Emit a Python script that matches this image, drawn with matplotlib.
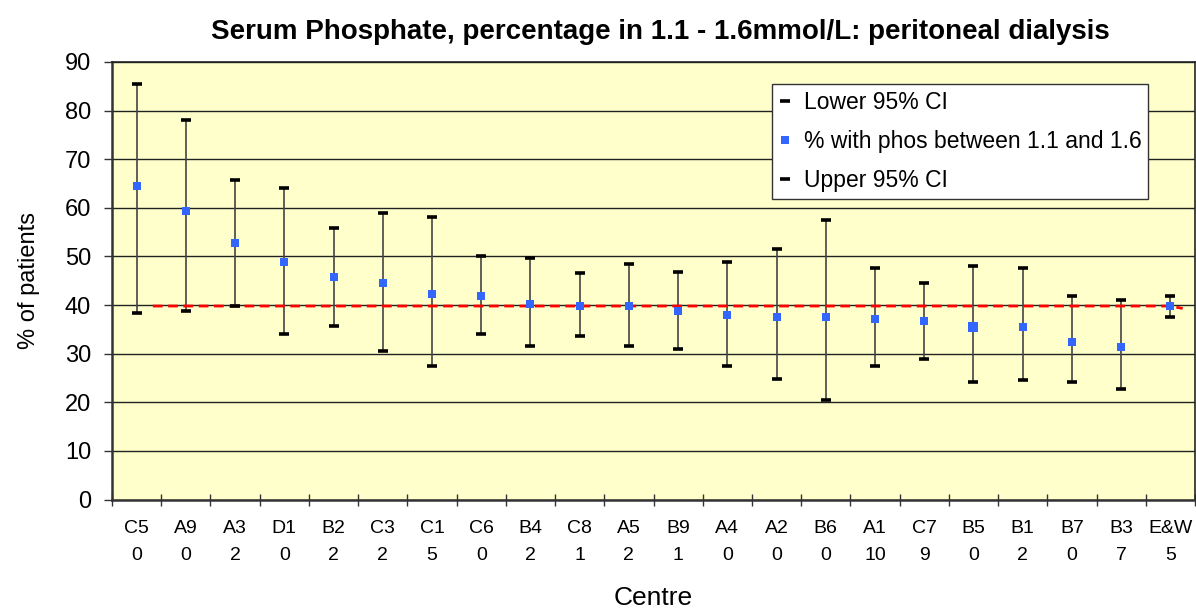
import matplotlib
matplotlib.use("Agg")
import matplotlib.pyplot as plt
from matplotlib.lines import Line2D
import numpy as np

plt.rcParams['font.family'] = ['Liberation Sans', 'DejaVu Sans']

centres = ["C5", "A9", "A3", "D1", "B2", "C3", "C1", "C6", "B4", "C8", "A5",
           "B9", "A4", "A2", "B6", "A1", "C7", "B5", "B1", "B7", "B3", "E&W"]
counts = ["0", "0", "2", "0", "2", "2", "5", "0", "2", "1", "2",
          "1", "0", "0", "0", "10", "9", "0", "2", "0", "7", "5"]
pct = [64.5, 59.3, 52.8, 48.8, 45.8, 44.6, 42.2, 41.9, 40.3, 39.9, 39.9,
       38.7, 37.9, 37.5, 37.5, 37.1, 36.7, 35.5, 35.5, 32.4, 31.3, 39.9]
lower = [38.3, 38.7, 39.9, 34.0, 35.6, 30.6, 27.4, 34.0, 31.6, 33.6, 31.6,
         30.9, 27.4, 24.7, 20.4, 27.4, 29.0, 24.2, 24.6, 24.2, 22.7, 37.5]
upper = [85.5, 78.1, 65.7, 64.1, 55.9, 59.0, 58.2, 50.1, 49.7, 46.5, 48.5,
         46.9, 48.8, 51.6, 57.4, 47.7, 44.6, 48.0, 47.6, 41.8, 41.0, 41.9]
# England & Wales reference line
ref_x = [0.33, 21.0, 21.25]
ref_y = [39.8, 39.8, 39.3]

W, H = 1196, 610
fig = plt.figure(figsize=(W / 100, H / 100), dpi=100)
ax = fig.add_axes([112 / W, 1 - 499.5 / H, (1195 - 112) / W, (499.5 - 62) / H])
ax.set_facecolor('#FFFFCC')

x = np.arange(len(centres))
ax.set_xlim(-0.5, len(centres) - 0.5)
ax.set_ylim(0, 90)

# grid
ax.set_yticks(np.arange(0, 91, 10))
ax.yaxis.grid(True, color='#222222', linewidth=1.0)
ax.set_axisbelow(True)

# high-low lines
ax.vlines(x, lower, upper, color='#444444', linewidth=1.2, zorder=2)
# reference line
ax.plot(ref_x, ref_y, color='#FF0000', linewidth=2, linestyle=(0, (3.5, 2)), zorder=3)

cap_kw = dict(linestyle='none', marker='_', markersize=7, markeredgewidth=2.6,
              color='black', zorder=4)
ax.plot(x, lower, **cap_kw)
ax.plot(x, upper, **cap_kw)
big = {"B5"}
msizes = [7.5 if c in big else 5.2 for c in centres]
for xi, yi, ms in zip(x, pct, msizes):
    ax.plot([xi], [yi], linestyle='none', marker='s', markersize=ms,
            color='#3366FF', markeredgewidth=0, zorder=5)

# x axis: ticks at boundaries, labels at centres
ax.set_xticks(np.arange(-0.5, len(centres), 1.0))
ax.set_xticklabels([])
ax.set_xticks(x, minor=True)
ax.set_xticklabels([f"{c}\n{n}" for c, n in zip(centres, counts)], minor=True,
                   fontsize=14, linespacing=1.75)
ax.tick_params(axis='x', which='major', direction='inout', length=8, width=1, color='#333333')
ax.tick_params(axis='x', which='minor', length=0, pad=15)
ax.tick_params(axis='y', direction='out', length=6, width=1, labelsize=17, pad=9,
               color='#333333')

for s in ['left', 'bottom']:
    ax.spines[s].set_color('#333333')
    ax.spines[s].set_linewidth(1.8)
for s in ['top', 'right']:
    ax.spines[s].set_color('#222222')
    ax.spines[s].set_linewidth(1.2)

ax.set_ylabel("% of patients", fontsize=17, labelpad=18)
ax.set_xlabel("Centre", fontsize=19, labelpad=16)

fig.text(660 / W, 1 - 32 / H,
         "Serum Phosphate, percentage in 1.1 - 1.6mmol/L: peritoneal dialysis",
         fontsize=20, fontweight='bold', ha='center', va='center')

handles = [
    Line2D([], [], linestyle='none', marker='_', markersize=6.5, markeredgewidth=2.6, color='black'),
    Line2D([], [], linestyle='none', marker='s', markersize=5.2, markeredgewidth=0, color='#3366FF'),
    Line2D([], [], linestyle='none', marker='_', markersize=6.5, markeredgewidth=2.6, color='black'),
]
leg = ax.legend(handles, ["Lower 95% CI", "% with phos between 1.1 and 1.6", "Upper 95% CI"],
                loc='upper left', bbox_to_anchor=(0.609, 0.949), fontsize=16.5,
                frameon=True, fancybox=False, framealpha=1, edgecolor='#333333',
                handlelength=0.6, handletextpad=0.5, borderpad=0.3, labelspacing=0.7,
                borderaxespad=0)
leg.get_frame().set_linewidth(1.0)

fig.savefig("out.png", dpi=100, facecolor='white')
